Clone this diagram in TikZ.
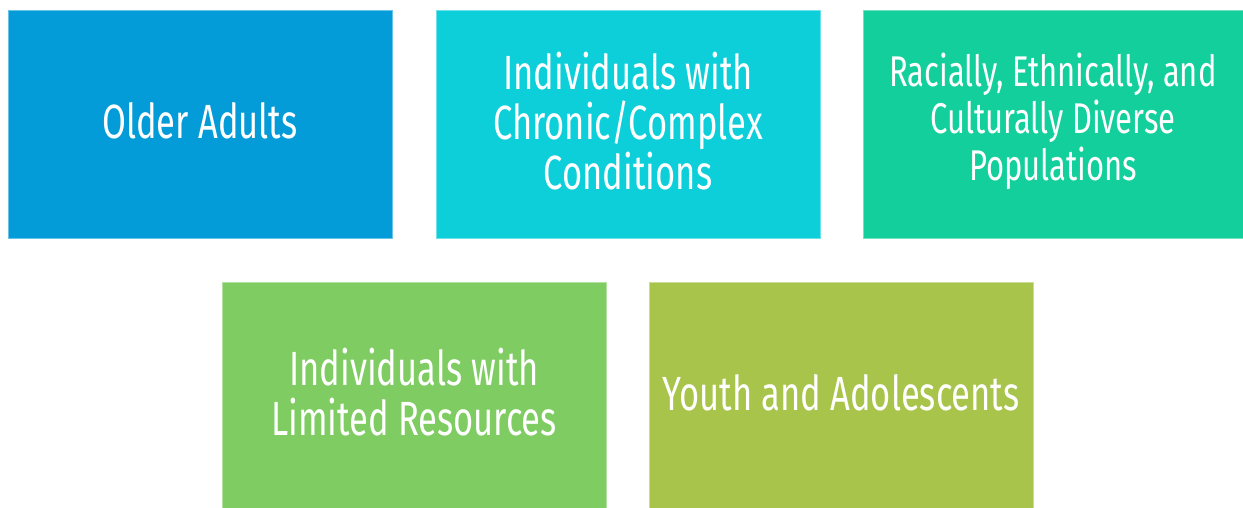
\documentclass[tikz,border=0pt]{standalone}
\usepackage{fontspec}
\newfontfamily\boxfont[FakeStretch=0.72]{Fira Sans}
\definecolor{cA}{HTML}{039BD8}
\definecolor{cB}{HTML}{0DCFDA}
\definecolor{cC}{HTML}{12CF9B}
\definecolor{cD}{HTML}{7ECC62}
\definecolor{cE}{HTML}{A8C44B}
\begin{document}
\begin{tikzpicture}[x=1pt,y=-1pt,
  tile/.style={minimum width=384pt,minimum height=228pt,inner sep=0pt,outer sep=0pt,line width=0.8pt},
  caption/.style={text=white,align=center,inner sep=0pt,
    font={\boxfont\fontsize{48}{50}\selectfont}},
  smallcaption/.style={caption,font={\boxfont\fontsize{43}{47}\selectfont}}]
\useasboundingbox (0,0) rectangle (1243,508);
\node[tile,fill=cA,draw=cA!60!white] (older) at (200,124) {};
\node[tile,fill=cB,draw=cB!60!white] (chronic) at (628,124) {};
\node[tile,minimum width=380pt,fill=cC,draw=cC!60!white] (diverse) at (1053,124) {};
\node[tile,minimum height=226pt,fill=cD,draw=cD!60!white] (limited) at (414,395) {};
\node[tile,minimum height=226pt,fill=cE,draw=cE!60!white] (youth) at (841,395) {};
\node[caption] (olderT) at ([yshift=3pt]older.center) {Older Adults};
\node[caption] (chronicT) at ([yshift=3pt]chronic.center) {Individuals with\\Chronic/Complex\\Conditions};
\node[smallcaption] (diverseT) at ([yshift=3pt]diverse.center) {Racially, Ethnically, and\\Culturally Diverse\\Populations};
\node[caption] (limitedT) at ([yshift=3pt]limited.center) {Individuals with\\Limited Resources};
\node[caption] (youthT) at ([yshift=2pt]youth.center) {Youth and Adolescents};
\end{tikzpicture}
\end{document}
